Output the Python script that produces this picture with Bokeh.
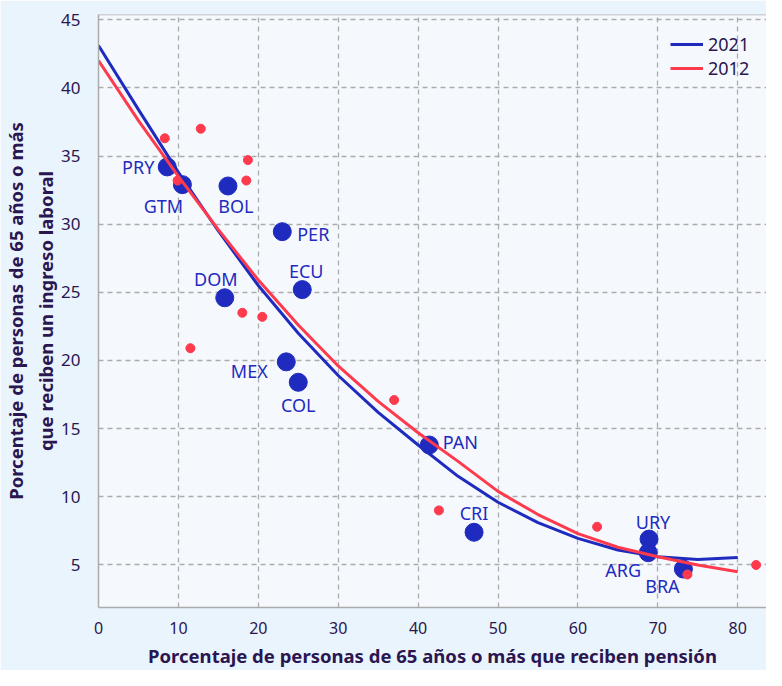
from bokeh.plotting import figure
from bokeh.models import ColumnDataSource, Legend, LegendItem, Span, FixedTicker, Range1d
from bokeh.core.properties import value
from bokeh.embed import file_html
from bokeh.resources import INLINE

# ---------------- data ----------------
countries = ["PRY", "GTM", "BOL", "PER", "ECU", "DOM", "MEX", "COL", "PAN", "CRI", "URY", "ARG", "BRA"]
pension_2021 = [8.6, 10.5, 16.2, 23.0, 25.5, 15.8, 23.5, 25.0, 41.4, 47.0, 68.9, 68.8, 73.2]
labor_2021 = [34.2, 32.9, 32.8, 29.45, 25.2, 24.6, 19.9, 18.4, 13.8, 7.4, 6.9, 5.9, 4.7]

pension_2012 = [8.3, 12.8, 18.7, 18.5, 9.9, 18.0, 20.5, 11.5, 37.0, 42.6, 62.4, 73.7, 82.3]
labor_2012 = [36.3, 37.0, 34.7, 33.2, 33.2, 23.5, 23.2, 20.9, 17.1, 9.0, 7.8, 4.3, 5.0]

trend_x = [0, 5, 10, 15, 20, 25, 30, 35, 40, 45, 50, 55, 60, 65, 70, 75, 80]
trend_2021 = [43.1, 38.4, 33.8, 29.5, 25.5, 22.0, 18.9, 16.2, 13.8, 11.5, 9.6, 8.1, 6.95, 6.1, 5.6, 5.4, 5.55]
trend_2012 = [42.0, 37.6, 33.5, 29.6, 25.9, 22.6, 19.6, 17.0, 14.7, 12.6, 10.4, 8.7, 7.3, 6.3, 5.6, 5.0, 4.5]

series_names = ["2021", "2012"]
x_ticks = [0, 10, 20, 30, 40, 50, 60, 70, 80]
y_ticks = [5, 10, 15, 20, 25, 30, 35, 40, 45]

x_title = "Porcentaje de personas de 65 años o más que reciben pensión"
y_title = "Porcentaje de personas de 65 años o más\nque reciben un ingreso laboral"

# ---------------- styling / placement ----------------
BLUE = "#1F2BBE"
RED = "#FF3A4C"
INK = "#2A1650"
GRID = "#ABABAB"
FONT = "Noto Sans"

# label offsets in screen pixels (dx, dy; dy positive = down)
label_offsets = {
    "PRY": (-29, 0), "GTM": (-19, 21), "BOL": (8, 20), "PER": (31, 2),
    "ECU": (4, -19), "DOM": (-9, -19), "MEX": (-37, 9), "COL": (0, 23),
    "PAN": (31, -3), "CRI": (0, -19), "URY": (4, -17), "ARG": (-25, 17),
    "BRA": (-21, 17),
}

p = figure(
    width=766, height=670,
    x_range=Range1d(0, 83.6), y_range=Range1d(1.88, 45.38),
    output_backend="svg", toolbar_location=None,
    min_border_left=97, min_border_right=0, min_border_top=14, min_border_bottom=62,
)
p.border_fill_color = "#EAF4FD"
p.background_fill_color = "#F5F9FE"
p.outline_line_color = None

# axes
for ax in (p.xaxis[0], p.yaxis[0]):
    ax.axis_line_color = GRID
    ax.axis_line_width = 1.5
    ax.major_tick_line_color = None
    ax.minor_tick_line_color = None
    ax.major_label_text_font = FONT
    ax.major_label_text_color = INK
    ax.axis_label_text_font = FONT
    ax.axis_label_text_font_style = "bold"
    ax.axis_label_text_font_size = "18.5px"
    ax.axis_label_text_color = INK
p.xaxis.major_label_text_font_size = "16px"
p.yaxis.major_label_text_font_size = "17px"
p.xaxis.ticker = FixedTicker(ticks=x_ticks)
p.yaxis.ticker = FixedTicker(ticks=y_ticks)
p.xaxis.axis_label = x_title
p.yaxis.axis_label = y_title
p.xaxis.major_label_standoff = 8
p.yaxis.major_label_standoff = 12
p.xaxis.axis_label_standoff = 6
p.yaxis.axis_label_standoff = 0

p.xgrid.ticker = FixedTicker(ticks=x_ticks)
p.ygrid.ticker = FixedTicker(ticks=y_ticks)
for g in (p.xgrid[0], p.ygrid[0]):
    g.grid_line_color = GRID
    g.grid_line_dash = "5 4"
    g.grid_line_width = 1.3

p.add_layout(Span(location=p.y_range.end, dimension="width", line_color=GRID, line_width=1.5))

# points
src21 = ColumnDataSource(dict(
    x=pension_2021, y=labor_2021, label=countries,
    dx=[label_offsets[c][0] for c in countries],
    dy=[label_offsets[c][1] for c in countries],
))
src12 = ColumnDataSource(dict(x=pension_2012, y=labor_2012))

p.scatter("x", "y", source=src21, size=18, color=BLUE)
p.scatter("x", "y", source=src12, size=9, color=RED)

l21 = p.line(trend_x, trend_2021, line_color=BLUE, line_width=3)
l12 = p.line(trend_x, trend_2012, line_color=RED, line_width=3)

p.text("x", "y", text="label", source=src21, x_offset="dx", y_offset="dy",
       text_align="center", text_baseline="middle", text_color=BLUE,
       text_font=value(FONT), text_font_size="18px")

legend = Legend(
    items=[LegendItem(label=series_names[0], renderers=[l21]),
           LegendItem(label=series_names[1], renderers=[l12])],
    location=(572, 527),
    background_fill_alpha=0, border_line_color=None,
    label_text_font=FONT, label_text_font_size="18px", label_text_color=INK,
    glyph_width=33, glyph_height=20, label_height=20, spacing=0, padding=0,
    label_standoff=5, margin=0,
)
p.add_layout(legend)

open("out.html", "w").write(file_html(p, INLINE))
